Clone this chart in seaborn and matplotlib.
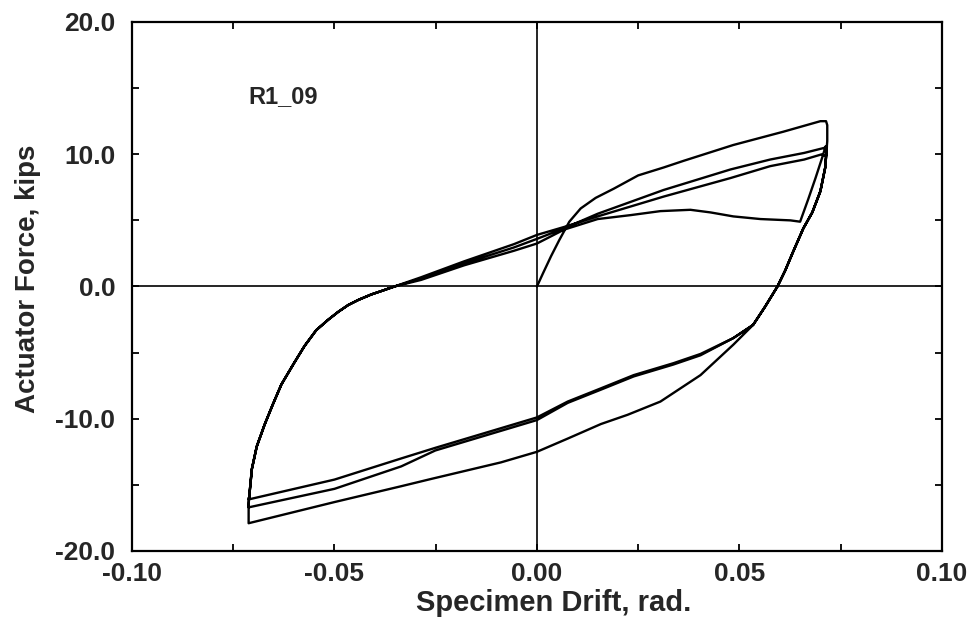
import numpy as np
import pandas as pd
import seaborn as sns
import matplotlib
import matplotlib.pyplot as plt
from matplotlib.ticker import MultipleLocator, FormatStrFormatter
matplotlib.use('Agg')

sns.set_theme(style="white")
plt.rcParams['font.family'] = ['Liberation Sans', 'DejaVu Sans']
plt.rcParams['axes.unicode_minus'] = False

# virgin loading from origin to first peak
virgin_x = [0.0, 0.0015, 0.0035, 0.0055, 0.0080, 0.0108, 0.0145, 0.0190, 0.0250, 0.0313, 0.0362,
            0.0485, 0.0608, 0.0700, 0.0714, 0.0717, 0.0717]
virgin_y = [0.0, 1.0, 2.3, 3.5, 4.9, 5.9, 6.7, 7.4, 8.4, 9.0, 9.5,
            10.7, 11.7, 12.5, 12.5, 12.2, 11.0]

# steep unloading on the right side
unload_x = [0.0716, 0.0712, 0.0700, 0.0680, 0.0658, 0.0633, 0.0613, 0.0594, 0.0564, 0.0534]
unload_y = [10.6, 9.0, 7.2, 5.6, 4.4, 2.65, 1.2, 0.0, -1.5, -2.9]

# lower branches towards negative drift
outer_x = [0.0485, 0.0404, 0.0305, 0.0224, 0.0158, 0.0076, 0.0, -0.0089, -0.0261, -0.0335, -0.0500, -0.0712, -0.0712]
outer_y = [-4.4, -6.7, -8.7, -9.7, -10.4, -11.5, -12.5, -13.3, -14.55, -15.1, -16.3, -17.9, -16.6]
inner_x = [0.0485, 0.0404, 0.0337, 0.0239, 0.0158, 0.0076, 0.0, -0.0251, -0.0335, -0.0500, -0.0712, -0.0712]
inner1_y = [-3.9, -5.2, -5.9, -6.8, -7.8, -8.8, -10.1, -12.4, -13.6, -15.3, -16.7, -16.3]
inner2_y = [-3.9, -5.1, -5.8, -6.7, -7.7, -8.7, -9.9, -12.2, -13.0, -14.6, -16.1, -16.0]

# reloading on the left side
rise_x = [-0.0711, -0.0709, -0.0704, -0.0692, -0.0672, -0.0652, -0.0631, -0.0600, -0.0574,
          -0.0545, -0.0515, -0.0490, -0.0466, -0.0440, -0.0409, -0.0380, -0.0352]
rise_y = [-16.0, -15.4, -13.8, -12.1, -10.4, -8.9, -7.4, -5.8, -4.5,
          -3.3, -2.5, -1.9, -1.4, -1.0, -0.6, -0.3, 0.0]
upper_x = [-0.0286, -0.0180, -0.0057, 0.0, 0.0067]
upper1_y = [0.5, 1.6, 2.7, 3.25, 4.3]
upper2_y = [0.6, 1.75, 2.95, 3.6, 4.4]
upper3_y = [0.7, 1.9, 3.2, 3.9, 4.5]

# positive reloading branches
wavy_x = [0.0150, 0.0232, 0.0305, 0.0379, 0.0429, 0.0485, 0.0552, 0.0626, 0.0650, 0.0670, 0.0688, 0.0704, 0.0713]
wavy_y = [5.1, 5.4, 5.7, 5.8, 5.6, 5.3, 5.1, 5.0, 4.9, 6.6, 8.2, 9.7, 10.6]
lineA_x = [0.0150, 0.0313, 0.0478, 0.0576, 0.0660, 0.0712, 0.0716]
lineA_y = [5.5, 7.3, 8.85, 9.6, 10.1, 10.5, 10.5]
lineB_x = [0.0150, 0.0313, 0.0478, 0.0576, 0.0660, 0.0704, 0.0710]
lineB_y = [5.3, 6.8, 8.2, 9.1, 9.6, 10.0, 9.9]

path = [
    (virgin_x, virgin_y), (unload_x, unload_y), (outer_x, outer_y),
    (rise_x, rise_y), (upper_x, upper1_y), (wavy_x, wavy_y),
    (unload_x, unload_y), (inner_x, inner1_y),
    (rise_x, rise_y), (upper_x, upper2_y), (lineA_x, lineA_y),
    (unload_x, unload_y), (inner_x, inner2_y),
    (rise_x, rise_y), (upper_x, upper3_y), (lineB_x, lineB_y),
]
drift = np.concatenate([p[0] for p in path])
force = np.concatenate([p[1] for p in path])
df = pd.DataFrame({'drift': drift, 'force': force})

fig = plt.figure(figsize=(9.75, 6.25), dpi=100)
ax = fig.add_axes([0.1354, 0.1184, 0.8306, 0.8464])

ax.axhline(0, color='black', lw=1.2, zorder=1)
ax.axvline(0, color='black', lw=1.2, zorder=1)
sns.lineplot(data=df, x='drift', y='force', sort=False, estimator=None,
             color='black', lw=1.7, ax=ax)

ax.set_xlim(-0.10, 0.10)
ax.set_ylim(-20, 20)
ax.xaxis.set_major_locator(MultipleLocator(0.05))
ax.xaxis.set_minor_locator(MultipleLocator(0.025))
ax.yaxis.set_major_locator(MultipleLocator(10))
ax.yaxis.set_minor_locator(MultipleLocator(5))
ax.xaxis.set_major_formatter(FormatStrFormatter('%.2f'))
ax.yaxis.set_major_formatter(FormatStrFormatter('%.1f'))
ax.tick_params(which='both', direction='in', length=5, width=1.3, color='black',
               top=True, right=True, bottom=True, left=True)
ax.tick_params(axis='x', which='major', pad=8, labelsize=19)
ax.tick_params(axis='y', which='major', pad=12, labelsize=19)
for lbl in ax.get_xticklabels() + ax.get_yticklabels():
    lbl.set_fontweight('bold')
for s in ax.spines.values():
    s.set_color('black')
    s.set_linewidth(1.6)

ax.set_xlabel('Specimen Drift, rad.', fontsize=21, fontweight='bold')
ax.set_ylabel('Actuator Force, kips', fontsize=20, fontweight='bold')
ax.xaxis.set_label_coords(0.521, -0.072)
ax.yaxis.set_label_coords(-0.112, 0.514)
ax.text(-0.0712, 14.4, 'R1_09', fontsize=17, fontweight='bold', va='center', ha='left')

fig.savefig('out.png', dpi=100)
